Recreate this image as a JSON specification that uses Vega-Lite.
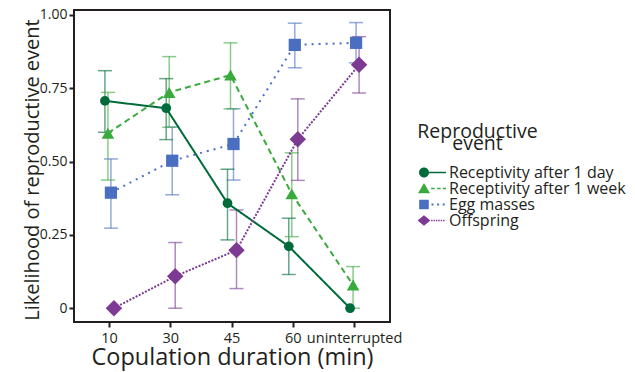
{
  "$schema": "https://vega.github.io/schema/vega-lite/v6.json",
  "width": 316,
  "height": 312,
  "autosize": {"type": "none"},
  "padding": {"left": 74, "top": 10, "right": 245, "bottom": 50},
  "background": "white",
  "config": {
    "font": "Open Sans",
    "view": {"stroke": "#231f20", "strokeWidth": 2},
    "axis": {"grid": false, "domain": false, "tickColor": "#231f20", "tickWidth": 2, "tickSize": 5, "labelColor": "#231f20", "titleColor": "#231f20", "labelFont": "Open Sans", "titleFont": "Open Sans", "titleFontWeight": "normal", "labelFontSize": 14}
  },
  "data": {
    "values": [
      {"series": "Receptivity after 1 day", "duration": "10", "value": 0.707, "lo": 0.60, "hi": 0.81},
      {"series": "Receptivity after 1 day", "duration": "30", "value": 0.682, "lo": 0.575, "hi": 0.783},
      {"series": "Receptivity after 1 day", "duration": "45", "value": 0.358, "lo": 0.233, "hi": 0.474},
      {"series": "Receptivity after 1 day", "duration": "60", "value": 0.211, "lo": 0.115, "hi": 0.307},
      {"series": "Receptivity after 1 day", "duration": "uninterrupted", "value": 0.0, "lo": null, "hi": null},
      {"series": "Receptivity after 1 week", "duration": "10", "value": 0.597, "lo": 0.437, "hi": 0.736},
      {"series": "Receptivity after 1 week", "duration": "30", "value": 0.736, "lo": 0.617, "hi": 0.858},
      {"series": "Receptivity after 1 week", "duration": "45", "value": 0.795, "lo": 0.68, "hi": 0.905},
      {"series": "Receptivity after 1 week", "duration": "60", "value": 0.39, "lo": 0.244, "hi": 0.53},
      {"series": "Receptivity after 1 week", "duration": "uninterrupted", "value": 0.079, "lo": 0.0, "hi": 0.142},
      {"series": "Egg masses", "duration": "10", "value": 0.394, "lo": 0.273, "hi": 0.509},
      {"series": "Egg masses", "duration": "30", "value": 0.503, "lo": 0.387, "hi": 0.618},
      {"series": "Egg masses", "duration": "45", "value": 0.56, "lo": 0.437, "hi": 0.68},
      {"series": "Egg masses", "duration": "60", "value": 0.898, "lo": 0.82, "hi": 0.972},
      {"series": "Egg masses", "duration": "uninterrupted", "value": 0.905, "lo": 0.837, "hi": 0.974},
      {"series": "Offspring", "duration": "10", "value": 0.0, "lo": null, "hi": null},
      {"series": "Offspring", "duration": "30", "value": 0.109, "lo": 0.0, "hi": 0.224},
      {"series": "Offspring", "duration": "45", "value": 0.198, "lo": 0.067, "hi": 0.335},
      {"series": "Offspring", "duration": "60", "value": 0.576, "lo": 0.436, "hi": 0.714},
      {"series": "Offspring", "duration": "uninterrupted", "value": 0.83, "lo": 0.734, "hi": 0.926}
    ]
  },
  "encoding": {
    "x": {
      "field": "duration", "type": "nominal",
      "sort": ["10", "30", "45", "60", "uninterrupted"],
      "scale": {"type": "band", "paddingInner": 0.804, "paddingOuter": 0.48},
      "axis": {"title": "Copulation duration (min)", "titleFontSize": 23.5, "labelFontSize": 14.5, "labelAngle": 0, "labelPadding": 4, "titlePadding": 1}
    },
    "xOffset": {
      "field": "series", "type": "nominal",
      "sort": ["Receptivity after 1 day", "Receptivity after 1 week", "Egg masses", "Offspring"]
    }
  },
  "layer": [
    {
      "mark": {"type": "point", "filled": true, "opacity": 0, "size": 256},
      "encoding": {
        "y": {"field": "value", "type": "quantitative", "scale": {"domain": [-0.047, 1.017], "nice": false, "zero": false},
          "axis": {"title": "Likelihood of reproductive event", "titleFontSize": 20, "titleY": 159.5, "values": [0, 0.25, 0.5, 0.75, 1], "labelExpr": "datum.value === 0 ? '0' : format(datum.value, '.2f')", "labelPadding": 2, "titlePadding": -3}},
        "color": {
          "field": "series", "type": "nominal",
          "scale": {"domain": ["Receptivity after 1 day", "Receptivity after 1 week", "Egg masses", "Offspring"], "range": ["#006b3a", "#3aaa3c", "#4a6fc0", "#7c3a93"]},
          "legend": {
            "title": ["Reproductive", "event"],
            "orient": "none",
            "legendX": 343,
            "legendY": 113,
            "padding": 0,
            "titleFont": "Open Sans",
            "titleFontSize": 19.5,
            "titleFontWeight": "normal",
            "titleColor": "#231f20",
            "titleLineHeight": 12,
            "titleAlign": "center",
            "titleAnchor": "start",
            "titlePadding": 10,
            "labelFont": "Open Sans",
            "labelFontSize": 16,
            "labelColor": "#231f20",
            "labelOffset": 9.5,
            "symbolOffset": 6.5,
            "labelLimit": 300,
            "symbolSize": 256,
            "symbolOpacity": 1,
            "symbolStrokeWidth": 0,
            "rowPadding": 0,
            "encode": {"title": {"update": {"dx": {"value": 60.5}}}}
          }
        },
        "shape": {
          "field": "series", "type": "nominal", "legend": null,
          "scale": {"domain": ["Receptivity after 1 day", "Receptivity after 1 week", "Egg masses", "Offspring"],
            "range": [
              "M-1.56,0 A0.625,0.625 0 1,1 -0.31,0 A0.625,0.625 0 1,1 -1.56,0 Z M-0.31,-0.09 L1.81,-0.09 L1.81,0.09 L-0.31,0.09 Z",
              "M-0.94,-0.7 L-0.19,0.6 L-1.69,0.6 Z M-0.05,-0.09 L0.4,-0.09 L0.4,0.09 L-0.05,0.09 Z M0.7,-0.09 L1.15,-0.09 L1.15,0.09 L0.7,0.09 Z M1.4,-0.09 L1.81,-0.09 L1.81,0.09 L1.4,0.09 Z",
              "M-1.54,-0.6 L-0.34,-0.6 L-0.34,0.6 L-1.54,0.6 Z M0,-0.125 L0.25,-0.125 L0.25,0.125 L0,0.125 Z M0.7,-0.125 L0.95,-0.125 L0.95,0.125 L0.7,0.125 Z M1.4,-0.125 L1.65,-0.125 L1.65,0.125 L1.4,0.125 Z",
              "M-0.94,-0.65 L-0.14,0 L-0.94,0.65 L-1.74,0 Z M-0.05,-0.09 L0.13,-0.09 L0.13,0.09 L-0.05,0.09 Z M0.25,-0.09 L0.43,-0.09 L0.43,0.09 L0.25,0.09 Z M0.55,-0.09 L0.73,-0.09 L0.73,0.09 L0.55,0.09 Z M0.85,-0.09 L1.03,-0.09 L1.03,0.09 L0.85,0.09 Z M1.15,-0.09 L1.33,-0.09 L1.33,0.09 L1.15,0.09 Z M1.45,-0.09 L1.63,-0.09 L1.63,0.09 L1.45,0.09 Z"
            ]}
        }
      }
    },
    {
      "mark": {"type": "rule", "strokeWidth": 1.5, "opacity": 0.6},
      "encoding": {
        "y": {"field": "lo", "type": "quantitative"},
        "y2": {"field": "hi"},
        "stroke": {"field": "series", "type": "nominal", "legend": null,
          "scale": {"domain": ["Receptivity after 1 day", "Receptivity after 1 week", "Egg masses", "Offspring"], "range": ["#006b3a", "#3aaa3c", "#4a6fc0", "#7c3a93"]}}
      }
    },
    {
      "mark": {"type": "tick", "thickness": 1.5, "size": 14, "opacity": 0.6},
      "encoding": {"y": {"field": "hi", "type": "quantitative"},
        "fill": {"field": "series", "type": "nominal", "legend": null,
          "scale": {"domain": ["Receptivity after 1 day", "Receptivity after 1 week", "Egg masses", "Offspring"], "range": ["#006b3a", "#3aaa3c", "#4a6fc0", "#7c3a93"]}}}
    },
    {
      "mark": {"type": "tick", "thickness": 1.5, "size": 14, "opacity": 0.6},
      "encoding": {"y": {"field": "lo", "type": "quantitative"},
        "fill": {"field": "series", "type": "nominal", "legend": null}}
    },
    {
      "mark": {"type": "line", "strokeWidth": 2},
      "encoding": {
        "y": {"field": "value", "type": "quantitative"},
        "stroke": {"field": "series", "type": "nominal", "legend": null},
        "strokeDash": {
          "field": "series", "type": "nominal", "legend": null,
          "scale": {"domain": ["Receptivity after 1 day", "Receptivity after 1 week", "Egg masses", "Offspring"], "range": [[1, 0], [6, 4], [2, 5], [2, 1.5]]}
        }
      }
    },
    {
      "transform": [{"filter": "datum.series === 'Receptivity after 1 day'"}],
      "mark": {"type": "point", "filled": true, "opacity": 1, "shape": "circle", "size": 95},
      "encoding": {"y": {"field": "value", "type": "quantitative"}, "fill": {"field": "series", "type": "nominal", "legend": null}}
    },
    {
      "transform": [{"filter": "datum.series === 'Receptivity after 1 week'"}],
      "mark": {"type": "point", "filled": true, "opacity": 1, "shape": "triangle-up", "size": 160},
      "encoding": {"y": {"field": "value", "type": "quantitative"}, "fill": {"field": "series", "type": "nominal", "legend": null}}
    },
    {
      "transform": [{"filter": "datum.series === 'Egg masses'"}],
      "mark": {"type": "point", "filled": true, "opacity": 1, "shape": "square", "size": 150},
      "encoding": {"y": {"field": "value", "type": "quantitative"}, "fill": {"field": "series", "type": "nominal", "legend": null}}
    },
    {
      "transform": [{"filter": "datum.series === 'Offspring'"}],
      "mark": {"type": "point", "filled": true, "opacity": 1, "shape": "diamond", "size": 270},
      "encoding": {"y": {"field": "value", "type": "quantitative"}, "fill": {"field": "series", "type": "nominal", "legend": null}}
    }
  ]
}
